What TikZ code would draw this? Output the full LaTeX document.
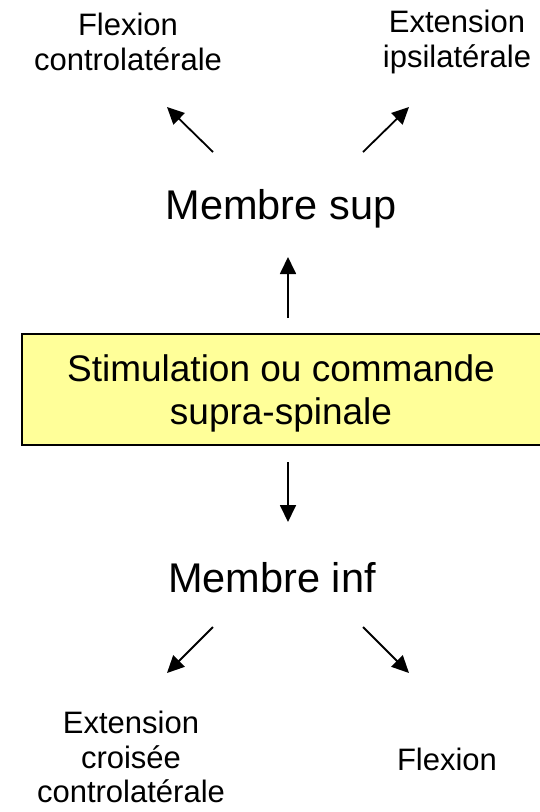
\documentclass[tikz,border=0pt]{standalone}
\usepackage{fontspec}
\setmainfont{Liberation Sans}
\usetikzlibrary{arrows.meta}
\definecolor{boxyellow}{HTML}{FFFF99}
\tikzset{
  bigtext/.style={font=\fontsize{41.5}{46}\selectfont, inner sep=0pt, anchor=base},
  boxtext/.style={font=\fontsize{37}{43}\selectfont, inner sep=0pt, align=center},
  smalltext/.style={font=\fontsize{31}{34.5}\selectfont, inner sep=0pt, align=center},
  link/.style={line width=1.8pt, -{Triangle[length=17pt,width=16pt]}}
}
\begin{document}
\begin{tikzpicture}[x=1pt,y=-1pt]
\useasboundingbox (0,0) rectangle (540,812);
\clip (0,0) rectangle (540,812);

% Drawing the command box
\draw [line width=2pt, fill=boxyellow] (22,334) rectangle (560,445);
\node (cmd) [boxtext] at (281,393) {Stimulation ou commande\\supra-spinale};

% Marking point Membre sup
\node (sup) [bigtext] at (281,219) {Membre sup};

% Marking point Membre inf
\node (inf) [bigtext] at (272,592) {Membre inf};

% Marking the upper outcomes
\node (flexcl) [smalltext] at (128,42) {Flexion\\controlatérale};
\node (extip) [smalltext] at (457,42) {Extension\\ipsilatérale};

% Marking the lower outcomes
\node (extcr) [smalltext] at (131,757) {Extension\\croisée\\controlatérale};
\node (flexip) [smalltext, anchor=base] at (447,770) {Flexion};

% Arrow ends
\coordinate (upA) at (288,318);  \coordinate (upB) at (288,257);
\coordinate (dnA) at (288,462);  \coordinate (dnB) at (288,522);
\coordinate (tlA) at (213,152);  \coordinate (tlB) at (167,107);
\coordinate (trA) at (363,152);  \coordinate (trB) at (409,107);
\coordinate (blA) at (213,627);  \coordinate (blB) at (167,673);
\coordinate (brA) at (363,627);  \coordinate (brB) at (409,673);

% Drawing the arrows
\draw [link] (upA) -- (upB);
\draw [link] (dnA) -- (dnB);
\draw [link] (tlA) -- (tlB);
\draw [link] (trA) -- (trB);
\draw [link] (blA) -- (blB);
\draw [link] (brA) -- (brB);
\end{tikzpicture}
\end{document}
